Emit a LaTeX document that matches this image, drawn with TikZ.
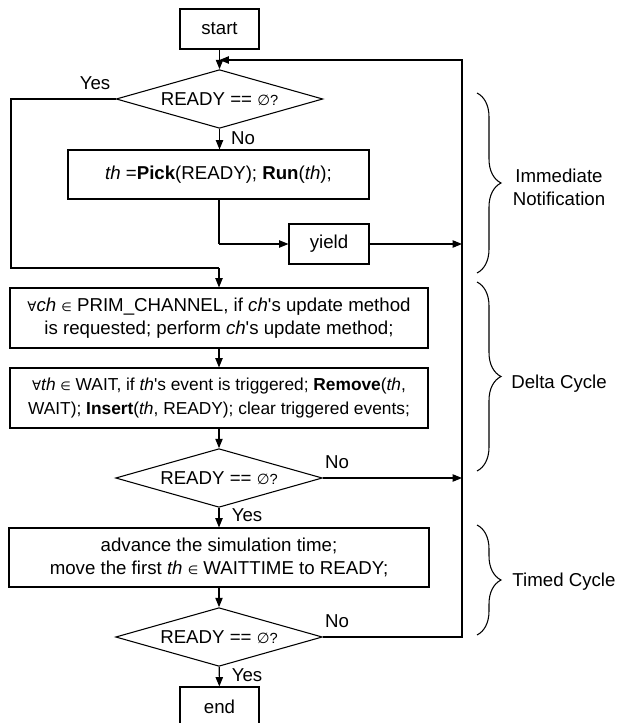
\documentclass[tikz,border=0pt]{standalone}
\usepackage{fontspec}
\setmainfont{Liberation Sans}
\newfontfamily\symf{DejaVu Sans}
\usetikzlibrary{arrows.meta,shapes.geometric,decorations.pathreplacing}
\newcommand{\emptyq}{{\fontsize{11}{13}\selectfont{\symf ∅}?}}
\newcommand{\elem}{{\symf\fontsize{9}{11}\selectfont ∈}}
\newcommand{\fall}{{\symf\fontsize{10}{11}\selectfont ∀}}
\newcommand{\ap}{\textquotesingle}
\begin{document}
\begin{tikzpicture}[x=0.75pt,y=-0.75pt,
  font=\fontsize{14}{17}\selectfont,
  box/.style={draw, line width=0.8pt, inner sep=0pt, align=center},
  dec/.style={draw, diamond, line width=0.8pt, inner sep=0pt, aspect=3.5, minimum width=155pt, minimum height=44pt},
  arr/.style={line width=0.8pt, -{Triangle[length=7pt,width=5.5pt]}},
  ln/.style={line width=0.8pt},
  brc/.style={decorate, decoration={brace, amplitude=18pt}, line width=0.8pt},
  lbl/.style={inner sep=0pt, align=center}]
\useasboundingbox (0,0) rectangle (618,723);

\node[box, minimum width=59.25pt, minimum height=30pt] (start) at (219.5,29) {start};
\node[dec] (d1) at (219.5,99) {READY == \emptyq};
\node[box, minimum width=225.75pt, minimum height=36.75pt] (pick) at (218.5,174.5) {\textit{th} =\textbf{Pick}(READY); \textbf{Run}(\textit{th});};
\node[box, minimum width=60pt, minimum height=30pt] (yield) at (329,244) {yield};
\node[box, minimum width=313.5pt, minimum height=45pt, font=\fontsize{14}{17}\selectfont] (prim) at (219,318)
  {\fall\textit{ch} \elem{} PRIM\_CHANNEL, if \textit{ch}\ap s update method\\ is requested; perform \textit{ch}\ap s update method;};
\node[box, minimum width=313.5pt, minimum height=45pt, font=\fontsize{13}{18}\selectfont] (wait) at (219,398)
  {\fall\textit{th} \elem{} WAIT, if \textit{th}\ap s event is triggered; \textbf{Remove}(\textit{th},\\ WAIT); \textbf{Insert}(\textit{th}, READY); clear triggered events;};
\node[dec] (d2) at (219,478) {READY == \emptyq};
\node[box, minimum width=315pt, minimum height=44.25pt] (timed) at (219,557.5)
  {advance the simulation time;\\ move the first \textit{th} \elem{} WAITTIME to READY;};
\node[dec] (d3) at (219,637) {READY == \emptyq};
\node[box, minimum width=59.25pt, minimum height=30pt] (end) at (219.5,707) {end};

\coordinate (loopR) at (462,60);
\coordinate (loopL) at (219.5,60);
\coordinate (yesL1) at (11,99);
\coordinate (yesL2) at (11,268);
\coordinate (yesM) at (219,268);
\coordinate (pickB) at (219,244);
\coordinate (yR) at (462,244);
\coordinate (d2R) at (462,478);
\coordinate (d3R) at (462,637);

\draw[arr] (start) -- (d1);
\draw[arr] (d3.east) -- (d3R) -- (loopR) -- (loopL);
\draw[ln] (d1.west) -- (yesL1) -- (yesL2) -- (yesM);
\draw[arr] (yesM) -- (prim.north);
\draw[arr] (d1.south) -- (pick.north -| d1.south);
\draw[ln] (pick.south -| pickB) -- (pickB);
\draw[arr] (pickB) -- (yield.west);
\draw[arr] (yield.east) -- (yR);
\draw[arr] (prim) -- (wait);
\draw[arr] (wait) -- (d2);
\draw[arr] (d2.east) -- (d2R);
\draw[arr] (d2) -- (timed);
\draw[arr] (timed) -- (d3);
\draw[arr] (d3) -- (end);

\node[lbl] (yes1) at (95,83) {Yes};
\node[lbl] (no1) at (243,138) {No};
\node[lbl] (no2) at (337,462) {No};
\node[lbl] (yes2) at (247,515) {Yes};
\node[lbl] (no3) at (337,621) {No};
\node[lbl] (yes3) at (247,675) {Yes};

\draw[brc] (477,93) -- (477,273);
\draw[brc] (477,282) -- (477,471);
\draw[brc] (477,525) -- (477,635);
\node[lbl, font=\fontsize{14}{17}\selectfont] (l1) at (559,187) {Immediate\\Notification};
\node[lbl] (l2) at (559,384) {Delta Cycle};
\node[lbl] (l3) at (564,582) {Timed Cycle};
\end{tikzpicture}
\end{document}
